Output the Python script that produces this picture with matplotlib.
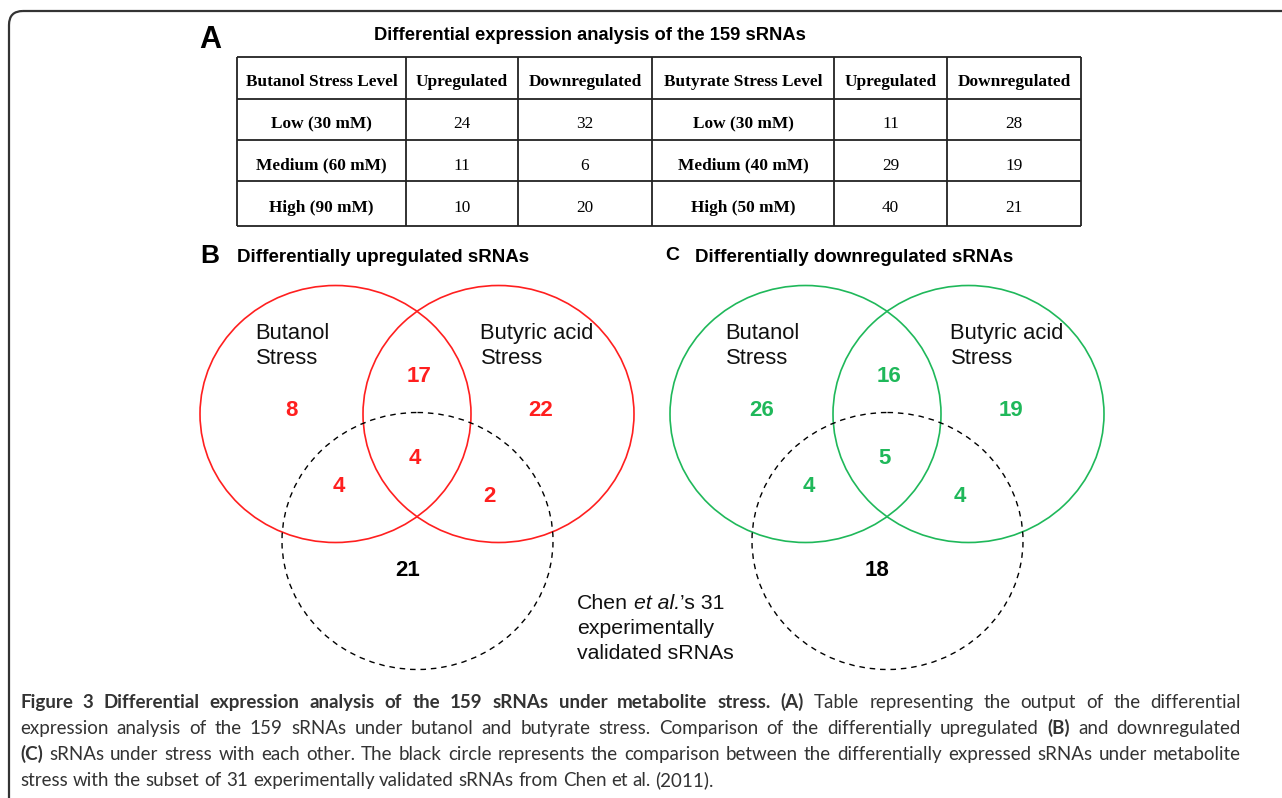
import numpy as np
import matplotlib.pyplot as plt
from matplotlib.patches import Ellipse, FancyBboxPatch

# region veriler
tablo_baslik = ['Butanol Stress Level', 'Upregulated', 'Downregulated',
                'Butyrate Stress Level', 'Upregulated', 'Downregulated']
butanol_seviye = ['Low (30 mM)', 'Medium (60 mM)', 'High (90 mM)']
butanol_up = [24, 11, 10]
butanol_down = [32, 6, 20]
butirat_seviye = ['Low (30 mM)', 'Medium (40 mM)', 'High (50 mM)']
butirat_up = [11, 29, 40]
butirat_down = [28, 19, 21]

# venn bolgeleri: sadece butanol, ortak, sadece butirik, butanol+chen, uclu, butirik+chen, sadece chen
venn_up = [8, 17, 22, 4, 4, 2, 21]
venn_down = [26, 16, 19, 4, 5, 4, 18]
# endregion

KIRMIZI = '#ff1f1f'
YESIL = '#1fb85a'
SANS = 'Liberation Sans'
SERIF = 'Liberation Serif'

fig = plt.figure(figsize=(12.82, 7.98), dpi=100)
ax = fig.add_axes([0, 0, 1, 1])
ax.set_xlim(0, 1282)
ax.set_ylim(798, 0)
ax.axis('off')

# cerceve (sol ust kose yuvarlak)
ax.add_patch(FancyBboxPatch((9, 11), 1500, 900, boxstyle='round,pad=0,rounding_size=14',
                            fc='none', ec='#333333', lw=1.6))

# region A - tablo
ax.text(199, 40, 'A', fontsize=22, fontweight='bold', family=SANS, va='center', ha='left')
ax.text(590, 35, 'Differential expression analysis of the 159 sRNAs', fontsize=13.2,
        fontweight='bold', family=SANS, va='center', ha='center')

kolon = [237, 406, 518, 652, 834, 947, 1081]
satir = [57, 99, 140, 181, 226]
ax.hlines(satir, kolon[0], kolon[-1], color='#222222', lw=1.3)
ax.vlines(kolon, satir[0], satir[-1], color='#222222', lw=1.3)

for j, b in enumerate(tablo_baslik):
    ax.text((kolon[j] + kolon[j + 1]) / 2, (satir[0] + satir[1]) / 2 + 4, b, fontsize=12.4,
            fontweight='bold', family=SERIF, ha='center', va='center')

for i in range(3):
    yc = (satir[i + 1] + satir[i + 2]) / 2 + 5
    hucre = [(butanol_seviye[i], 'bold'), (str(butanol_up[i]), 'normal'), (str(butanol_down[i]), 'normal'),
             (butirat_seviye[i], 'bold'), (str(butirat_up[i]), 'normal'), (str(butirat_down[i]), 'normal')]
    for j, (s, w) in enumerate(hucre):
        ax.text((kolon[j] + kolon[j + 1]) / 2, yc, s, fontsize=12.4, fontweight=w,
                family=SERIF, ha='center', va='center')
# endregion


# region B ve C - venn
def venn_ciz(x0, sayilar, renk, harf, harf_x, harf_boy, baslik, baslik_x):
    # x0: sol dairenin merkezi
    ax.text(harf_x, 256, harf, fontsize=harf_boy, fontweight='bold', family=SANS, va='center', ha='left')
    ax.text(baslik_x, 257, baslik, fontsize=13.5, fontweight='bold', family=SANS, va='center', ha='left')
    ax.add_patch(Ellipse((x0, 414), 271, 257, fc='none', ec=renk, lw=1.2))
    ax.add_patch(Ellipse((x0 + 163, 414), 271, 257, fc='none', ec=renk, lw=1.2))
    ax.add_patch(Ellipse((x0 + 82, 541), 271, 257, fc='none', ec='black', lw=1.0,
                         ls=(0, (4, 3.5))))
    ax.text(x0 - 80, 346, 'Butanol\nStress', fontsize=15.8, family=SANS, va='center', ha='left',
            linespacing=1.2, color='#111111')
    ax.text(x0 + 145, 346, 'Butyric acid\nStress', fontsize=15.8, family=SANS, va='center', ha='left',
            linespacing=1.2, color='#111111')
    konum = [(x0 - 44, 411), (x0 + 84, 376), (x0 + 205, 411), (x0 + 3, 486),
             (x0 + 79, 458), (x0 + 154, 496), (x0 + 72, 571)]
    for k, (px, py) in enumerate(konum):
        ax.text(px, py, str(sayilar[k]), fontsize=16, fontweight='bold', family=SANS,
                color=renk if k < 6 else 'black', ha='center', va='center')


venn_ciz(335.5, venn_up, KIRMIZI, 'B', 200, 19, 'Differentially upregulated sRNAs', 237)
venn_ciz(805.5, venn_down, YESIL, 'C', 665, 14, 'Differentially downregulated sRNAs', 695)
# endregion

renderer = fig.canvas.get_renderer()


def genislik(s, **kw):
    t = ax.text(0, 0, s, **kw)
    w = t.get_window_extent(renderer=renderer).width
    t.remove()
    return w


def yaz(x, y, parcalar, boy, aile, renk='black', sag=None):
    # parcalar: (metin, kalinlik, stil, oncesinde_bosluk); y = taban cizgisi
    bosluk = genislik('a a', fontsize=boy, family=aile) - genislik('aa', fontsize=boy, family=aile)
    if sag is not None:
        toplam = sum(genislik(s, fontsize=boy, fontweight=w, style=st, family=aile) for s, w, st, b in parcalar)
        n = sum(1 for p in parcalar[1:] if p[3])
        bosluk = (sag - x - toplam) / n
    for s, w, st, b in parcalar:
        if b:
            x += bosluk
        t = ax.text(x, y, s, fontsize=boy, fontweight=w, style=st, family=aile,
                    color=renk, ha='left', va='baseline')
        x += t.get_window_extent(renderer=renderer).width


def kelimeler(*runlar):
    # her run'i kelimelere bol, aralarina bosluk koy
    out = []
    for s, w in runlar:
        for k in s.split():
            out.append((k, w, 'normal', len(out) > 0))
    return out


# Chen metni
yaz(577, 609, [('Chen', 'normal', 'normal', False), ('et al.', 'normal', 'italic', True),
               ('\u2019s 31', 'normal', 'normal', False)], 15.3, SANS, '#111111')
ax.text(577, 634, 'experimentally', fontsize=15.3, family=SANS, va='baseline', ha='left', color='#111111')
ax.text(577, 659, 'validated sRNAs', fontsize=15.3, family=SANS, va='baseline', ha='left', color='#111111')

# region alt yazi
ALT = 'Lato'
boy = 13.5
gri = '#333333'
SAG = 1241
yaz(20, 708, kelimeler(('Figure 3 Differential expression analysis of the 159 sRNAs under metabolite stress. (A)', 'bold'),
                       ('Table representing the output of the differential', 'normal')), boy, ALT, gri, SAG)
yaz(20, 734, kelimeler(('expression analysis of the 159 sRNAs under butanol and butyrate stress. Comparison of the differentially upregulated', 'normal'),
                       ('(B)', 'bold'), ('and downregulated', 'normal')), boy, ALT, gri, SAG)
yaz(20, 760, kelimeler(('(C)', 'bold'),
                       ('sRNAs under stress with each other. The black circle represents the comparison between the differentially expressed sRNAs under metabolite', 'normal')),
    boy, ALT, gri, SAG)
yaz(20, 786, kelimeler(('stress with the subset of 31 experimentally validated sRNAs from Chen et al. (2011).', 'normal')),
    boy, ALT, gri)
# endregion

fig.savefig('out.png', dpi=100)
